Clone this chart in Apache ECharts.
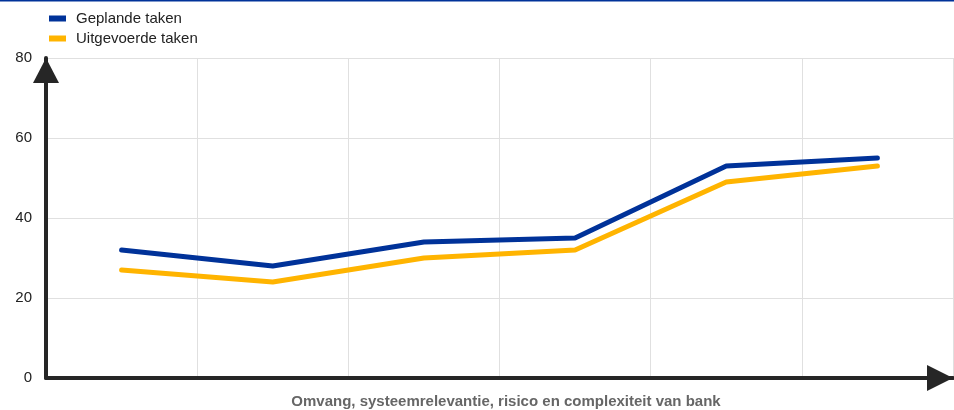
<!DOCTYPE html>
<html><head><meta charset="utf-8">
<script src="https://cdn.jsdelivr.net/npm/echarts@6/dist/echarts.min.js"></script>
<style>html,body{margin:0;padding:0;background:#fff}#c{width:954px;height:410px}</style>
</head><body><div id="c"></div>
<script>
var categories = ['1', '2', '3', '4', '5', '6'];
var geplande = [32, 28, 34, 35, 53, 55];
var uitgevoerde = [27, 24, 30, 32, 49, 53];
var seriesNames = ['Geplande taken', 'Uitgevoerde taken'];
var xAxisName = 'Omvang, systeemrelevantie, risico en complexiteit van bank';

var chart = echarts.init(document.getElementById('c'));
chart.setOption({
  animation: false,
  graphic: [{type: 'rect', left: 0, top: 0, shape: {width: 954, height: 1.5}, style: {fill: '#003299'}}],
  legend: {
    orient: 'vertical', left: 49, top: 10, padding: 0, itemWidth: 17, itemHeight: 6, itemGap: 3,
    icon: 'rect',
    textStyle: {fontFamily: 'Liberation Sans, Arial', fontSize: 15, color: '#222', lineHeight: 17, padding: [0, 0, 0, 5]},
    data: seriesNames
  },
  grid: {left: 46, right: 1, top: 58, bottom: 32, containLabel: false, outerBoundsMode: 'none'},
  xAxis: {
    type: 'category', data: categories, boundaryGap: true,
    name: xAxisName, nameLocation: 'middle', nameGap: 16,
    nameTextStyle: {fontFamily: 'Liberation Sans, Arial', fontSize: 15, fontWeight: 'bold', color: '#666', padding: [0, 0, 0, 13]},
    axisLine: {lineStyle: {color: '#262626', width: 4}, symbol: ['none', 'triangle'], symbolSize: [26, 26], symbolOffset: [0, -13]},
    axisTick: {show: false}, axisLabel: {show: false},
    splitLine: {show: true, lineStyle: {color: '#e0e0e0', width: 1}}
  },
  yAxis: {
    type: 'value', min: 0, max: 80, interval: 20,
    axisLine: {show: true, lineStyle: {color: '#262626', width: 4}, symbol: ['none', 'triangle'], symbolSize: [26, 25], symbolOffset: [0, -12.5]},
    axisTick: {show: false},
    axisLabel: {fontFamily: 'Liberation Sans, Arial', fontSize: 15, color: '#222', margin: 14},
    splitLine: {show: true, lineStyle: {color: '#e0e0e0', width: 1}}
  },
  series: [
    {name: seriesNames[0], type: 'line', data: geplande, showSymbol: false, symbol: 'none', lineStyle: {color: '#003299', width: 5, cap: 'round'}, itemStyle: {color: '#003299'}, z: 3},
    {name: seriesNames[1], type: 'line', data: uitgevoerde, showSymbol: false, symbol: 'none', lineStyle: {color: '#ffb400', width: 5, cap: 'round'}, itemStyle: {color: '#ffb400'}, z: 2}
  ]
});
</script></body></html>
